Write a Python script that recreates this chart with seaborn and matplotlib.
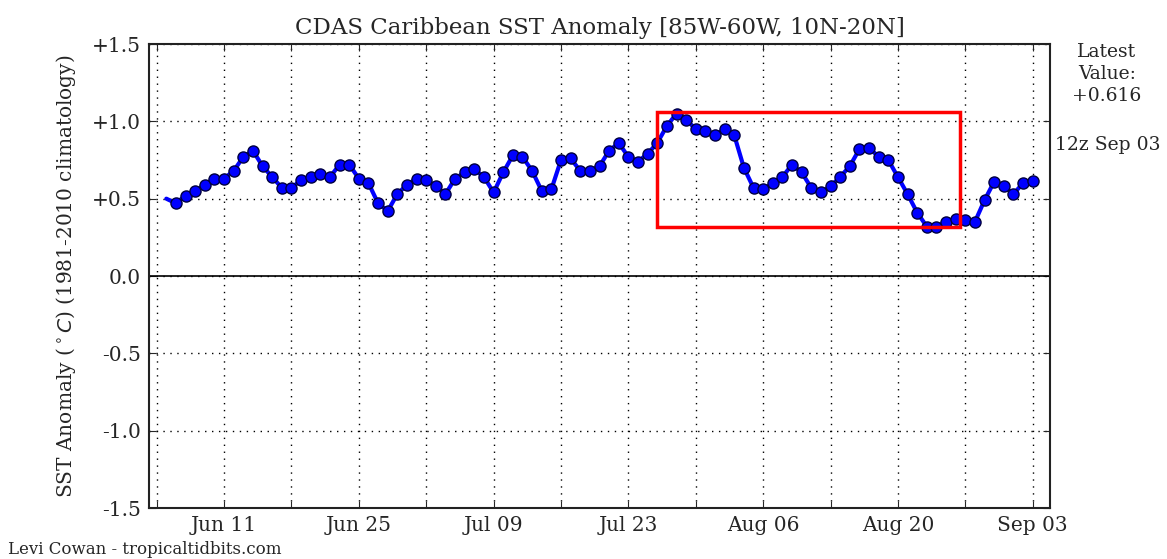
import pandas as pd
import numpy as np
import matplotlib
matplotlib.use("Agg")
import matplotlib.pyplot as plt
import matplotlib.dates as mdates
from matplotlib.patches import Rectangle
from matplotlib.ticker import FuncFormatter
import seaborn as sns

# Daily SST anomaly values (deg C), Jun 05 -> Sep 03
start_date = "2020-06-05"
end_date = "2020-09-03"
anomaly = [
    0.50, 0.47, 0.52, 0.55, 0.59, 0.63, 0.63, 0.68, 0.77, 0.81,
    0.71, 0.64, 0.57, 0.57, 0.62, 0.64, 0.66, 0.64, 0.72, 0.72,
    0.63, 0.60, 0.47, 0.42, 0.53, 0.59, 0.63, 0.62, 0.58, 0.53,
    0.63, 0.67, 0.69, 0.64, 0.54, 0.67, 0.78, 0.77, 0.68, 0.55,
    0.56, 0.75, 0.76, 0.68, 0.68, 0.71, 0.81, 0.86, 0.77, 0.74,
    0.79, 0.86, 0.97, 1.05, 1.01, 0.95, 0.94, 0.91, 0.95, 0.91,
    0.70, 0.57, 0.56, 0.60, 0.64, 0.72, 0.67, 0.57, 0.54, 0.58,
    0.64, 0.71, 0.82, 0.83, 0.77, 0.75, 0.64, 0.53, 0.41, 0.32,
    0.32, 0.35, 0.37, 0.36, 0.35, 0.49, 0.61, 0.58, 0.53, 0.60,
    0.616,
]
latest_label = "Latest\nValue:\n+0.616"
valid_label = "12z Sep 03"

# highlighted window
box_start = "2020-07-26"
box_end = "2020-08-26 11:00"
box_low, box_high = 0.32, 1.06

dates = pd.date_range(start_date, end_date, freq="D")
df = pd.DataFrame({"date": dates, "anomaly": anomaly})

sns.set_style("ticks")
plt.rcParams["font.family"] = ["DejaVu Serif"]
plt.rcParams["mathtext.fontset"] = "dejavusans"

fig = plt.figure(figsize=(11.67, 5.59), dpi=100)
ax = fig.add_axes([149 / 1167, 1 - 508 / 559, (1050 - 149) / 1167, (508 - 44) / 559])

sns.lineplot(data=df, x="date", y="anomaly", ax=ax, color="#0000ff", lw=3,
             marker="o", markersize=8, markeredgecolor="#000040",
             markeredgewidth=1, markevery=list(range(1, len(df))))

ax.axhline(0, color="k", lw=1.2)

pad = pd.Timedelta(days=1.8)
ax.set_xlim(dates[0] - pad, dates[-1] + pad)
ax.set_ylim(-1.5, 1.5)

weekly = pd.date_range("2020-06-04", end_date, freq="7D")
ax.set_xticks(weekly)
ax.set_xticklabels([d.strftime("%b %d") if i % 2 == 1 else "" for i, d in enumerate(weekly)])
ax.set_yticks(np.arange(-1.5, 1.51, 0.5))
ax.yaxis.set_major_formatter(FuncFormatter(lambda v, p: "0.0" if abs(v) < 1e-9 else f"{v:+.1f}"))

ax.grid(True, color="k", ls=(0, (1, 4)), lw=1)
ax.tick_params(direction="in", top=True, right=True, length=5, labelsize=14.5, pad=6)
for s in ax.spines.values():
    s.set_linewidth(1.5)
    s.set_color("#222222")

ax.add_patch(Rectangle((mdates.date2num(pd.Timestamp(box_start)), box_low),
                       mdates.date2num(pd.Timestamp(box_end)) - mdates.date2num(pd.Timestamp(box_start)),
                       box_high - box_low, fill=False, edgecolor="red", lw=2.5, zorder=5))

ax.set_title("CDAS Caribbean SST Anomaly [85W-60W, 10N-20N]", fontsize=16.5, pad=7)
ax.set_xlabel("")
ax.set_ylabel(r"SST Anomaly ($^\circ C$) (1981-2010 climatology)", fontsize=14.5, labelpad=10)

fig.text(1107 / 1167, 1 - 74 / 559, latest_label, ha="center", va="center", fontsize=13.5, linespacing=1.3)
fig.text(1108 / 1167, 1 - 145 / 559, valid_label, ha="center", va="center", fontsize=13.5)
fig.text(8 / 1167, 1 - 549 / 559, "Levi Cowan - tropicaltidbits.com", ha="left", va="center", fontsize=12)

fig.savefig("out.png", dpi=100)
